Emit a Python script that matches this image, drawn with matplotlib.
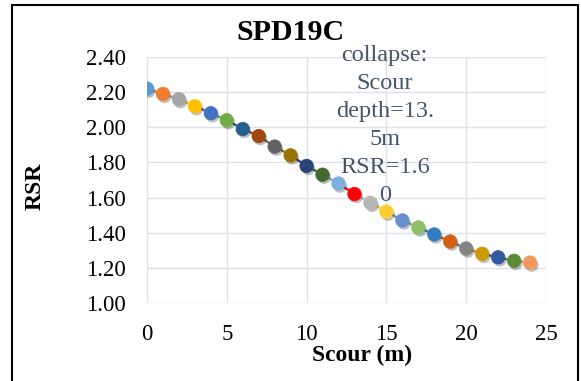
import matplotlib
matplotlib.use("Agg")
import matplotlib.pyplot as plt
import matplotlib.patheffects as pe
from matplotlib.patches import Rectangle

scour = list(range(25))
rsr = [2.22, 2.19, 2.16, 2.12, 2.08, 2.04, 1.99, 1.95, 1.89, 1.84, 1.78, 1.73, 1.68,
       1.62, 1.57, 1.52, 1.47, 1.43, 1.39, 1.35, 1.31, 1.28, 1.26, 1.24, 1.23]
colors = ["#5B9BD5", "#ED7D31", "#A5A5A5", "#FFC000", "#4472C4", "#70AD47",
          "#255E91", "#9E480E", "#636363", "#997300", "#264478", "#43682B",
          "#7CAFDD", "#FF0000", "#B7B7B7", "#FFCD33", "#698ED0", "#8CC168",
          "#327DC2", "#D26012", "#848484", "#CC9A00", "#335AA1", "#5A8A39",
          "#F1975A"]
xticks = [0, 5, 10, 15, 20, 25]
yticks = [1.00, 1.20, 1.40, 1.60, 1.80, 2.00, 2.20, 2.40]
title = "SPD19C"
xlabel = "Scour (m)"
ylabel = "RSR"
note = "collapse:\nScour\ndepth=13.\n5m\nRSR=1.6\n0"

plt.rcParams['font.family'] = ['Liberation Serif', 'DejaVu Serif']

W, H = 581, 381
fig = plt.figure(figsize=(W/100, H/100), dpi=100)
ax = fig.add_axes([147/W, 1 - 303/H, (546-147)/W, (303-57)/H])

# figure border
fig.patches.append(Rectangle((12/W, -0.01), (578-12)/W, 1 - 5/H + 0.01,
                             transform=fig.transFigure, fill=False,
                             edgecolor='black', linewidth=1.5))

for i in range(1, len(scour)):
    ax.plot(scour[i-1:i+1], rsr[i-1:i+1], color=colors[i], linewidth=1.6, zorder=2)

shadow = [pe.SimplePatchShadow(offset=(1.2, -1.8), shadow_rgbFace='black', alpha=0.25),
          pe.Normal()]
for x, y, c in zip(scour, rsr, colors):
    ax.scatter([x], [y], s=95, color=c, edgecolors=c, linewidths=0.5, zorder=3,
               path_effects=shadow)

ax.set_xlim(0, 25)
ax.set_ylim(1.0, 2.4)
ax.set_xticks(xticks)
ax.set_yticks(yticks)
ax.set_yticklabels([f"{v:.2f}" for v in yticks])
ax.tick_params(length=0, labelsize=16.5)
ax.tick_params(axis='y', pad=15)
ax.tick_params(axis='x', pad=15)
ax.grid(True, color='#DDE0E8', linewidth=1)
ax.set_axisbelow(True)
for s in ax.spines.values():
    s.set_visible(False)

fig.text(362/W, 1 - 355/H, xlabel, fontsize=17, fontweight='bold',
         ha='center', va='center')
fig.text(35/W, 1 - 186/H, ylabel, fontsize=17, fontweight='bold',
         ha='center', va='center', rotation=90)
fig.text(290/W, 1 - 32/H, title, fontsize=21.5, fontweight='bold',
         ha='center', va='center')

ax.text(14.9, 2.47, note, fontsize=17.5, color='#44546A', ha='center', va='top',
        linespacing=1.44)

fig.savefig("out.png", dpi=100)
